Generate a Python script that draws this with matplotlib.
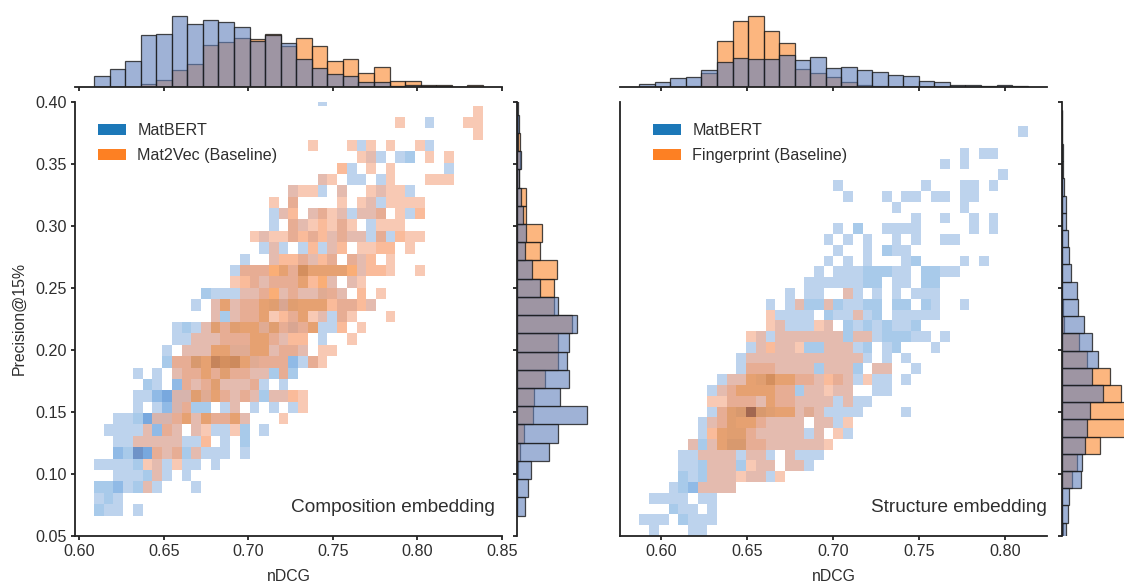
import numpy as np
import matplotlib
matplotlib.use("Agg")
import matplotlib.pyplot as plt
from matplotlib.colors import ListedColormap
from matplotlib.patches import Patch

plt.rcParams['font.family'] = ['Liberation Sans', 'DejaVu Sans']

FIG_W, FIG_H = 1124, 583

# heatmap levels per bin, top row first, "." = empty bin (spaces only to keep columns readable)
comp_blue = [
    "..... ..... ..... ..... ...1.",
    "",
    "..... ..... ..... ..... ..... ..... ....1",
    "",
    "..... ..... ..... ..... ..... ..1.. ....1",
    "..... ..... ..... ..... ..... ...11 .12..",
    "..... ..... ..... ..... ..... .1... ..... .1...",
    "..... ..... ..... ..... ...1. .11.1",
    "..... ..... ..... ..... 1..1. 1...1 ..1..",
    "..... ..... ..... ..... 1.... ...11",
    "..... ..... ..... ...11 ..11. 11111 ..1..",
    "..... ..... ..... ...1. 11... 1..1.",
    "..... ..... ..... ..1.. 1.1.1 11111 1....",
    "..... ..... ..... ..111 .1.11",
    "..... ..... ..... 1..1. .11.1 .11..",
    "..... ..... ....1 111.1 12111 1.1..",
    "..... ..... ..... .1111 11..1 .1...",
    "..... ..... .2111 111.1 11121 1....",
    "..... ..... 1.111 11123 2111. 11.1.",
    "..... ..... ..121 111.. 11.11 1....",
    "..... ...12 11212 11221 31111",
    "..... ...11 11111 11111 ...1.",
    "..... ..1.1 11112 21111 11...",
    "..... ..211 31423 12111 311..",
    "....1 .1.11 11121 11121 2....",
    "..... 21.31 11211 111.1",
    "....1 13433 22111 11211",
    "....1 .1331 22.11 .1.1. 1....",
    "..112 43311 11111 1....",
    ".1111 1311. 1.11. 2.1..",
    "..111 11111 1..1. 2....",
    "..325 41112 1111. 1....",
    "11112 .11.1 1.1..",
    "..111 211.1",
    "22312 11... 1....",
    "121..",
    "211.1",
]
comp_orange = [
    "",
    "..... ..... ..... ..... ..... ..... ..... ....1",
    "..... ..... ..... ..... ..... ..... .1... ...11",
    "..... ..... ..... ..... ..... ..... ..... ....1",
    "..... ..... ..... ..... ..1.. .1.1. 1..1.",
    "..... ..... ..... ..... ..... ..11. ....1 .1...",
    "..... ..... ..... ..... ..... 2..1. 1....",
    "..... ..... ..... ..... ...11 ..... 1...1 11...",
    "..... ..... ..... ..... 111.. 1..11 11...",
    "..... ..... ..... ...1. 2.... 1.11. 1111.",
    "..... ..... ..... ....1 2.121 1.112 .1.2.",
    "..... ..... ..... ..... 21121 21..1 11...",
    "..... ..... ..... .1111 22221 211.2 .211.",
    "..... ..... ..... ...1. ..2.1 2.112 2.1..",
    "..... ..... ..... ...12 22122 .212. 1....",
    "..... ..... ..... 22233 24333 33122 1..1.",
    "..... ..... ....1 22122 23231 .11..",
    "..... ..... ..... 11231 21122 1.2.1",
    "..... ..... ..131 22332 33332 2221.",
    "..... ..... ..1.1 22312 2311. 21... 1....",
    "..... ..... .1323 33232 223.. 2.1..",
    "..... ..... 11122 23321 22... .1...",
    "..... ....1 11332 23312 21.11",
    "..... ...22 33444 32222 ..21.",
    "..... ...12 23232 211.2",
    "..... ....2 12311 12...",
    "..... ...11 32321 21.11 21...",
    "..... ...12 ....1 ..... .1...",
    "..... .1123 13223 1...1",
    "..... 1.21. 11..1",
    "....1 1111. .2...",
    "..... .212. 1....",
    "..... 11.1.",
    "..... .1...",
    "..... 1....",
    "",
    "",
]
struct_blue = [
    "..... ..... ..... ..... ..... ..... ..... ....1",
    "",
    "..... ..... ..... ..... ..... ..... ...1. 11...",
    "..... ..... ..... ..... ..... ..... .1.1.",
    "..... ..... ..... ..... ..... ..... ..... ..1..",
    "..... ..... ..... ..... 1.... ....1 ...11 .1...",
    "..... ..... ..... ..... .1... 1.11. 11.11",
    "..... ..... ..... ..... ..... .1... ...1.",
    "..... ..... ..... ..... ..... ...1. .1..1 .1...",
    "..... ..... ..... ..... 1.2.. 1111. ....1 .1...",
    "..... ..... ..... ....1 .1.1. .1.1. .11..",
    "..... ..... ..... ..... 1..1. 211..",
    "..... ..... ..... ....1 .1.1. ..12. ...1. 1....",
    "..... ..... ..... ...1. 11122 211.2 211..",
    "..... ..... ..... ..111 11122 .11.2 2....",
    "..... ..... ..... 1.11. .11.1 .1.11 1....",
    "..... ..... ...1. 11221 21122 .22.2 1..1.",
    "..... ..... ....1 111.2 11112 .1111 1....",
    "..... ..... ....1 111.1 .2121 2112.",
    "..... ..... ..111 11111 12111 22211 .1...",
    "..... ..... .11.1 1.221 1112. 12... 1....",
    "..... ..... 11111 11111 1111. 1.1..",
    "..... ..... 11111 11121 112.1 1..1.",
    "..... ...11 11221 1111. 111.1 1.1..",
    "..... ..111 11111 1211. 11..1 1....",
    "..... ....1 11111 11111 1111.",
    "..... ..112 35321 11211 111.. ..1..",
    "..... .1112 11111 11.11 1....",
    "..... .1.12 21111 1111. .1...",
    "..... 12113 31111 1111.",
    "....1 11111 1111. 1111.",
    "....1 12111 2.11. 111..",
    "....2 12111 .111.",
    "...12 31111",
    ".1111 .11..",
    "...21 1.1..",
    "111.2 111..",
    ".1... 11...",
]
struct_orange = [
    "..... ..... ..... ..... .1...",
    "..... ..... ..... .1..1",
    "..... ..... ...1. ..... ..1..",
    "..... ..... ...11 ...11",
    "..... ..... .11.1 11111 1.11.",
    "..... ..... ..121 11..1 11...",
    "..... ..... .1111 11111 111..",
    "..... ..... .2221 111.1 11..1 1....",
    "..... ....1 13343 32212 21.1.",
    "..... ...12 33332 2.111 11...",
    "..... ..112 22132 21111 .1...",
    "..... ...23 35333 3121.",
    "..... ..123 33211 11.11 .1...",
    "..... ..233 32111 11.1. 1....",
    "..... 1.133 32211 11111",
    "..... .1111 .11.. 1....",
    "..... ..111 .111. 11...",
    "..... ..111 111.1",
    "..... .1111",
    "",
    "",
    "",
    "",
]

# marginal histogram counts, low to high bin
comp_top_blue = [34, 55, 79, 156, 160, 212, 190, 202, 195, 180, 138, 156, 133, 83, 58, 40, 34, 16, 16, 4, 6, 4, 2, 0, 0]
comp_top_orange = [0, 0, 0, 10, 22, 52, 68, 127, 136, 148, 145, 158, 124, 146, 122, 79, 84, 43, 60, 18, 18, 6, 6, 0, 7]
comp_side_blue = [8, 10.7, 13.7, 32, 41, 70, 43, 52, 50, 52, 60, 41, 23, 14.7, 8, 9, 5.7, 3.7, 2, 4, 1, 1.7, 0.5, 0, 0]
comp_side_orange = [0, 0.3, 1.3, 3, 7, 16, 17, 28, 41, 41, 55, 37, 36.7, 40, 23, 25, 9, 9, 2, 3, 3, 1, 0, 0, 0]
struct_top_blue = [8, 14, 27, 31, 51, 76, 86, 85, 84, 96, 80, 90, 57, 60, 51, 45, 37, 32, 18, 15, 6, 7, 2, 5, 3]
struct_top_orange = [0, 0, 0, 4, 41, 138, 198, 213, 168, 131, 55, 43, 29, 16, 7, 3, 0, 0, 0, 0, 0, 0, 0, 0, 0]
struct_side_blue = [3.7, 6.3, 6.7, 18.7, 20.3, 23.3, 25.3, 28.3, 40.7, 30, 35.7, 30.3, 22.3, 16.3, 14.7, 9.3, 7.3, 6.3, 3.7, 3.7, 2.3, 1, 1, 0, 0]
struct_side_orange = [1.3, 0, 0, 9.7, 15.3, 38.3, 70, 66, 59, 48.3, 25.3, 16.7, 2.3, 0.5, 0, 0, 0, 0, 0, 0, 0, 0, 0, 0, 0]

x_ticks_comp = [0.60, 0.65, 0.70, 0.75, 0.80, 0.85]
x_ticks_struct = [0.60, 0.65, 0.70, 0.75, 0.80]
y_ticks = [0.05, 0.10, 0.15, 0.20, 0.25, 0.30, 0.35, 0.40]

blue_levels = ['#BDD3ED', '#A8CAEA', '#90BAE6', '#78A8DE', '#6E93C8']
orange_levels = [(246/255, 178/255, 149/255, 0.7), (249/255, 158/255, 111/255, 0.7),
                 (248/255, 140/255, 60/255, 0.7), (232/255, 118/255, 35/255, 0.7),
                 (185/255, 85/255, 30/255, 0.7)]
hist_blue = (96/255, 128/255, 188/255, 0.6)
hist_orange = (251/255, 111/255, 0, 0.5)
edge = (0.1, 0.1, 0.1, 0.8)
text_col = '#2e2e2e'
line_col = '#222222'


def parse_grid(rows):
    grid = np.zeros((40, 40), dtype=int)
    for i, row in enumerate(reversed(rows)):
        s = row.replace(" ", "").ljust(40, ".")
        grid[i] = [0 if c == "." else int(c) for c in s]
    return np.ma.masked_equal(grid, 0)


def px_axes(x0, x1, y_top, y_bottom):
    return fig.add_axes([x0 / FIG_W, 1 - y_bottom / FIG_H, (x1 - x0) / FIG_W, (y_bottom - y_top) / FIG_H])


def style(ax, keep):
    for name, spine in ax.spines.items():
        spine.set_visible(name in keep)
        spine.set_linewidth(1.3)
        spine.set_color(line_col)
    ax.tick_params(width=1.3, length=3.2, color=line_col, labelsize=11.6, labelcolor=text_col, pad=3)


def panel(x0, x1, side_x, xlim, xticks, xr, yr, side_yr, blue, orange, top_b, top_o, side_b, side_o,
          names, title, legend_x, show_y):
    ax = px_axes(x0, x1, 102, 535.7)
    xe = np.linspace(xr[0], xr[1], 41)
    ye = np.linspace(yr[0], yr[1], 41)
    ax.pcolormesh(xe, ye, parse_grid(blue), cmap=ListedColormap(blue_levels), vmin=0.5, vmax=5.5, linewidth=0)
    ax.pcolormesh(xe, ye, parse_grid(orange), cmap=ListedColormap(orange_levels), vmin=0.5, vmax=5.5, linewidth=0)
    ax.set_xlim(xlim)
    ax.set_ylim(0.05, 0.40)
    ax.set_xticks(xticks)
    ax.set_xticklabels([f"{t:.2f}" for t in xticks])
    ax.set_yticks(y_ticks)
    style(ax, ['left', 'bottom'])
    ax.set_xlabel("nDCG", fontsize=11.4, color=text_col, labelpad=7)
    if show_y:
        ax.set_yticklabels([f"{t:.2f}" for t in y_ticks])
        ax.set_ylabel("Precision@15%", fontsize=11.4, color=text_col, labelpad=6)
    else:
        ax.tick_params(left=False, labelleft=False)
    ax.text(0.983 if show_y else 1.0, 0.0645, title, transform=ax.transAxes, ha='right', va='center',
            fontsize=13.7, color=text_col)
    handles = [Patch(color='#1c78b8', lw=0), Patch(color='#fd8023', lw=0)]
    ax.legend(handles, names, loc='upper left', bbox_to_anchor=(legend_x, 0.951), frameon=False, borderpad=0,
              borderaxespad=0, handlelength=1.75, handleheight=0.65, handletextpad=0.68, labelspacing=0.62,
              fontsize=11.6, labelcolor=text_col)

    # top marginal
    ax_top = px_axes(x0, x1, 10, 87)
    bx = np.linspace(xr[0], xr[1], 26)
    ax_top.bar(bx[:-1], top_o, width=np.diff(bx), align='edge', facecolor=hist_orange, edgecolor=edge, linewidth=0.9)
    ax_top.bar(bx[:-1], top_b, width=np.diff(bx), align='edge', facecolor=hist_blue, edgecolor=edge, linewidth=0.9)
    ax_top.set_xlim(xlim)
    ax_top.set_ylim(0, 231)
    ax_top.set_xticks(xticks)
    ax_top.set_yticks([])
    style(ax_top, ['bottom'])
    ax_top.tick_params(labelbottom=False)
    ax_top.patch.set_alpha(0)

    # side marginal
    ax_side = px_axes(side_x, side_x + 75, 102, 535.7)
    by = np.linspace(side_yr[0], side_yr[1], 26)
    ax_side.barh(by[:-1], side_o, height=np.diff(by), align='edge', facecolor=hist_orange, edgecolor=edge, linewidth=0.9)
    ax_side.barh(by[:-1], side_b, height=np.diff(by), align='edge', facecolor=hist_blue, edgecolor=edge, linewidth=0.9)
    ax_side.set_xlim(0, 75)
    ax_side.set_ylim(0.05, 0.40)
    ax_side.set_yticks(y_ticks)
    ax_side.set_xticks([])
    style(ax_side, ['left'])
    ax_side.tick_params(labelleft=False)
    ax_side.patch.set_alpha(0)


fig = plt.figure(figsize=(FIG_W / 100, FIG_H / 100), dpi=100)

panel(75, 502, 517, (0.59746, 0.85), x_ticks_comp, (0.6087, 0.8387), (0.0662, 0.4339), (0.0662, 0.4339),
      comp_blue, comp_orange, comp_top_blue, comp_top_orange, comp_side_blue, comp_side_orange,
      ["MatBERT", "Mat2Vec (Baseline)"], "Composition embedding", 23 / 427, True)
panel(620.3, 1047, 1062, (0.5765, 0.8246), x_ticks_struct, (0.5876, 0.8133), (0.0498, 0.3978), (0.0466, 0.3939),
      struct_blue, struct_orange, struct_top_blue, struct_top_orange, struct_side_blue, struct_side_orange,
      ["MatBERT", "Fingerprint (Baseline)"], "Structure embedding", 33 / 427, False)

fig.savefig("out.png", dpi=100)
